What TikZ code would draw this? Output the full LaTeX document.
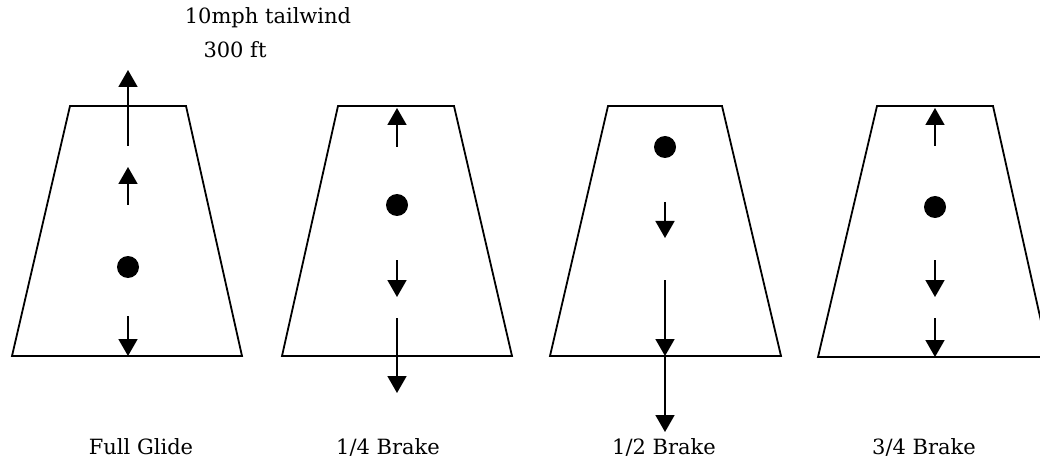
\documentclass[tikz,border=0pt]{standalone}
\usepackage{fontspec}
\setmainfont{DejaVu Serif}
\usetikzlibrary{arrows.meta}

\tikzset{
  wing/.style={line width=1.8pt},
  vec/.style={line width=1.8pt,-{Triangle[width=19pt,length=17pt]}},
  lbl/.style={font=\fontsize{21}{25}\selectfont,inner sep=0pt},
}

\begin{document}
\begin{tikzpicture}[x=1pt,y=-1pt]
\clip (0,0) rectangle (1040,470);
% full glide
\draw[wing] (70,106) -- (186,106) -- (242,356) -- (12,356) -- cycle;
\draw[vec] (128,146) -- (128,70);
\draw[vec] (128,205) -- (128,167);
\fill (128,267) circle (11pt);
\draw[vec] (128,316) -- (128,356);
\node[lbl] (glide) at (141,447) {Full Glide};
\node[lbl] (wind) at (268,18) {10mph tailwind};
\node[lbl] (dist) at (235,50) {300 ft};
% 1/4 brake
\draw[wing] (338,106) -- (454,106) -- (512,356) -- (282,356) -- cycle;
\draw[vec] (397,147) -- (397,108);
\fill (397,205) circle (11pt);
\draw[vec] (397,260) -- (397,297);
\draw[vec] (397,318) -- (397,393);
\node[lbl] (quarter) at (388,447) {1/4 Brake};
% 1/2 brake
\draw[wing] (608,106) -- (722,106) -- (781,356) -- (550,356) -- cycle;
\fill (665,147) circle (11pt);
\draw[vec] (665,202) -- (665,238);
\draw[vec] (665,280) -- (665,356);
\draw[vec] (665,356) -- (665,432);
\node[lbl] (half) at (664,447) {1/2 Brake};
% 3/4 brake
\draw[wing] (877,106) -- (993,106) -- (1049,357) -- (818,357) -- cycle;
\draw[vec] (935,146) -- (935,108);
\fill (935,207) circle (11pt);
\draw[vec] (935,260) -- (935,297);
\draw[vec] (935,318) -- (935,357);
\node[lbl] (threeq) at (924,447) {3/4 Brake};
\end{tikzpicture}
\end{document}
